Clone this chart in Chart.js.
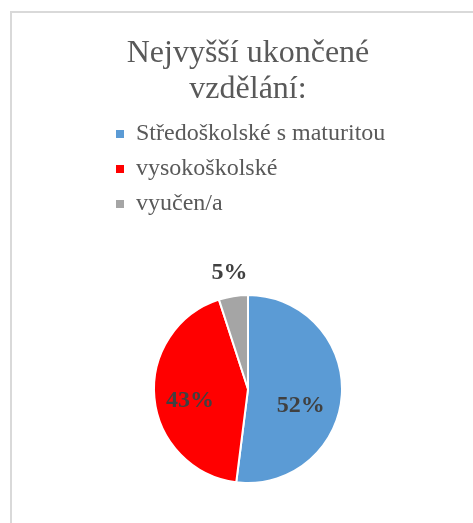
<!DOCTYPE html>
<html>
<head>
<meta charset="utf-8">
<script src="https://cdn.jsdelivr.net/npm/chart.js@4.4.0/dist/chart.umd.min.js"></script>
<style>
	html, body { margin: 0; padding: 0; background: #fff; overflow: hidden; width: 473px; height: 523px; }
	#frame { position: absolute; left: 10px; top: 11px; width: 600px; height: 700px; border-left: 2px solid #d9d9d9; border-top: 2px solid #d9d9d9; }
	#educationChart { position: absolute; left: 0; top: 0; }
</style>
</head>
<body>
<div id="frame"></div>
<canvas id="educationChart" width="473" height="600"></canvas>
<script>
const categories = ["Středoškolské s maturitou", "vysokoškolské", "vyučen/a"];
const shares = [52, 43, 5];
const sliceColors = ["#5B9BD5", "#FF0000", "#A5A5A5"];
const titleLines = ["Nejvyšší ukončené", "vzdělání:"];

// where each percentage label sits: fraction of radius and angle shift (deg)
const labelDist = [0.59, 0.63, 1.25];
const labelShift = [14, -6, 0];

const serif = "'Liberation Serif', 'Times New Roman', serif";

const pieLabels = {
	id: 'pieLabels',
	afterDatasetsDraw(chart) {
		const ctx = chart.ctx;
		const meta = chart.getDatasetMeta(0);
		ctx.save();
		ctx.font = "bold 24px " + serif;
		ctx.fillStyle = "#404040";
		ctx.textAlign = "center";
		ctx.textBaseline = "middle";
		meta.data.forEach((arc, i) => {
			const p = arc.getProps(['x', 'y', 'startAngle', 'endAngle', 'outerRadius'], true);
			const mid = (p.startAngle + p.endAngle) / 2 + labelShift[i] * Math.PI / 180;
			const r = p.outerRadius * labelDist[i];
			ctx.fillText(shares[i] + "%", p.x + Math.cos(mid) * r, p.y + Math.sin(mid) * r);
		});
		ctx.restore();
	}
};

const ctx = document.getElementById('educationChart').getContext('2d');
new Chart(ctx, {
	type: 'pie',
	data: {
		labels: categories,
		datasets: [{
			data: shares,
			backgroundColor: sliceColors,
			borderColor: '#ffffff',
			borderWidth: 2,
		}],
	},
	options: {
		responsive: false,
		animation: false,
		events: [],
		radius: 94,
		layout: {
			padding: { left: 105, right: 82, top: 12, bottom: 48 },
		},
		plugins: {
			tooltip: { enabled: false },
			title: {
				display: true,
				text: titleLines,
				color: '#595959',
				font: { family: serif, size: 32, weight: 'normal', lineHeight: 1.125 },
				padding: { top: 24, bottom: 3 },
			},
			legend: {
				position: 'top',
				align: 'start',
				labels: {
					boxWidth: 8,
					boxHeight: 8,
					padding: 11,
					color: '#595959',
					font: { family: serif, size: 24 },
					generateLabels: (chart) => chart.data.labels.map((label, i) => ({
						text: label,
						fillStyle: sliceColors[i],
						strokeStyle: sliceColors[i],
						lineWidth: 0,
						fontColor: '#595959',
						index: i,
						hidden: false,
					})),
				},
			},
		},
	},
	plugins: [pieLabels],
});
</script>
</body>
</html>
